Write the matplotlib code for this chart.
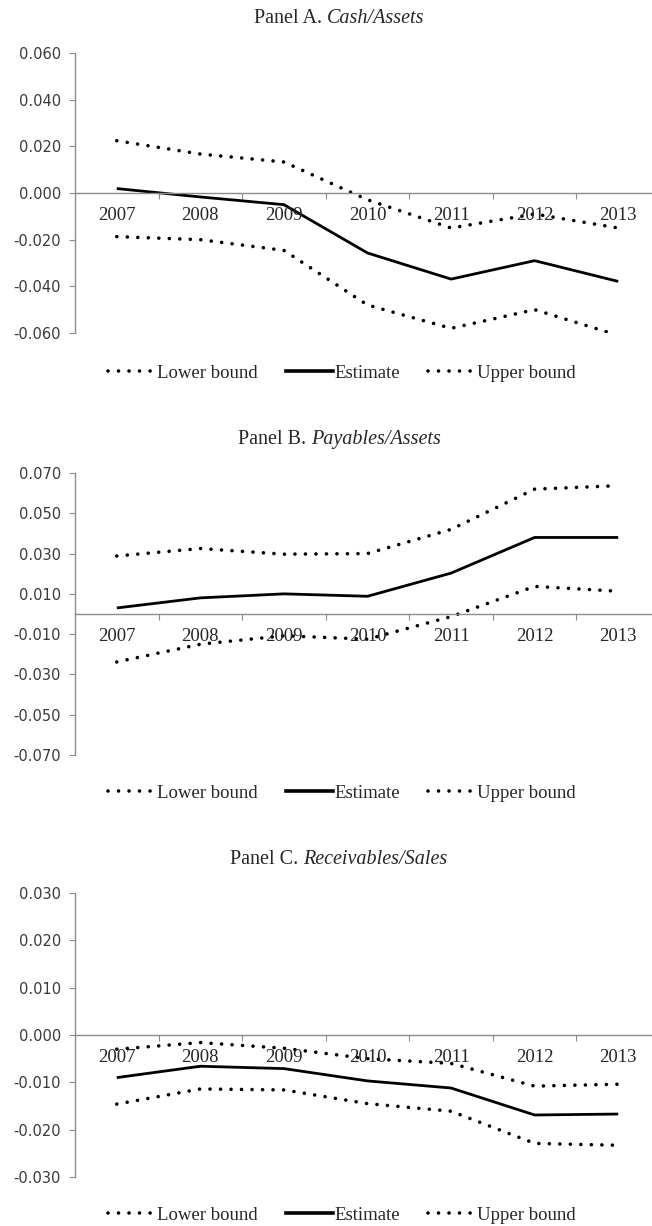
import numpy as np
import matplotlib
matplotlib.use("Agg")
import matplotlib.pyplot as plt
from matplotlib.lines import Line2D

plt.rcParams['axes.unicode_minus'] = False

years = ['2007', '2008', '2009', '2010', '2011', '2012', '2013']

# Panel A: cash / assets
cash_lower = [-0.0187, -0.0200, -0.0246, -0.0480, -0.0580, -0.0500, -0.0610]
cash_est = [0.0019, -0.0017, -0.0050, -0.0257, -0.0369, -0.0290, -0.0379]
cash_upper = [0.0224, 0.0167, 0.0133, -0.0029, -0.0150, -0.0090, -0.0150]

# Panel B: payables / assets
pay_lower = [-0.0238, -0.0150, -0.0108, -0.0125, -0.0013, 0.0137, 0.0113]
pay_est = [0.0030, 0.0080, 0.0100, 0.0088, 0.0203, 0.0380, 0.0380]
pay_upper = [0.0288, 0.0325, 0.0297, 0.0300, 0.0420, 0.0620, 0.0637]

# Panel C: receivables / sales
rec_lower = [-0.0146, -0.0114, -0.0116, -0.0145, -0.0161, -0.0229, -0.0233]
rec_est = [-0.0090, -0.0066, -0.0071, -0.0097, -0.0112, -0.0169, -0.0167]
rec_upper = [-0.0030, -0.0016, -0.0028, -0.0050, -0.0060, -0.0108, -0.0104]

panels = [
    ('Panel A. ', 'Cash/Assets', cash_lower, cash_est, cash_upper,
     np.arange(-0.06, 0.0601, 0.02), (-0.06, 0.06)),
    ('Panel B. ', 'Payables/Assets', pay_lower, pay_est, pay_upper,
     np.arange(-0.07, 0.0701, 0.02), (-0.07, 0.07)),
    ('Panel C. ', 'Receivables/Sales', rec_lower, rec_est, rec_upper,
     np.arange(-0.03, 0.0301, 0.01), (-0.03, 0.03)),
]

# pixel layout: (title y, axis top y, axis bottom y, legend y)
W, H = 652, 1226
rows = [(17, 53, 333, 373), (438, 473, 755, 793), (858, 893, 1177, 1215)]

grey = '#8c8c8c'
txt = '#262626'
dot = (0, (0.01, 2.9))
serif = 'Liberation Serif'

fig = plt.figure(figsize=(W / 100, H / 100), dpi=100)
titles = []

for (head, tail, lo, est, up, yt, ylim), (ty, top, bot, ly) in zip(panels, rows):
    ax = fig.add_axes([75 / W, 1 - bot / H, 585 / W, (bot - top) / H])
    x = np.arange(len(years))
    ax.plot(x, lo, color='black', lw=2.6, ls=dot, dash_capstyle='round')
    ax.plot(x, est, color='black', lw=2.0, solid_capstyle='butt')
    ax.plot(x, up, color='black', lw=2.6, ls=dot, dash_capstyle='round')

    ax.set_xlim(-0.5, 6.5)
    ax.set_ylim(*ylim)
    ax.set_yticks(yt, labels=['%.3f' % v for v in yt], fontfamily='DejaVu Sans',
                  fontsize=10.5, color='#3a3a3a')
    ax.set_xticks(np.arange(0.5, 7, 1), labels=[])
    ax.tick_params(axis='x', direction='out', length=4, color=grey)
    ax.tick_params(axis='y', direction='out', length=4, color=grey, pad=6)

    # category labels sit just under the zero line
    for xi, yr in zip(x, years):
        ax.annotate(yr, (xi, 0), xytext=(0, -16), textcoords='offset points',
                    ha='center', va='center', fontfamily=serif, fontsize=13.5,
                    color=txt)

    ax.spines['top'].set_visible(False)
    ax.spines['right'].set_visible(False)
    ax.spines['bottom'].set_position(('data', 0))
    for s in ('left', 'bottom'):
        ax.spines[s].set_color(grey)
        ax.spines[s].set_linewidth(1.0)
    ax.patch.set_visible(False)

    # title: plain prefix followed by the italic ratio name
    t1 = fig.text(339 / W, 1 - ty / H, head, ha='right', va='baseline',
                  fontfamily=serif, fontsize=14.5, color=txt)
    t2 = fig.text(339 / W, 1 - ty / H, tail, ha='left', va='baseline',
                  fontfamily=serif, fontstyle='italic', fontsize=14.5, color=txt)
    titles.append((t1, t2, ty))

    handles = [Line2D([], [], color='black', lw=2.6, ls=dot, dash_capstyle='round'),
               Line2D([], [], color='black', lw=2.6),
               Line2D([], [], color='black', lw=2.6, ls=dot, dash_capstyle='round')]
    fig.legend(handles, ['Lower bound', 'Estimate', 'Upper bound'],
               loc='center', bbox_to_anchor=(342 / W, 1 - ly / H), ncol=3,
               frameon=False, handlelength=2.5, handletextpad=0.1,
               columnspacing=1.5, prop={'family': serif, 'size': 13.5},
               labelcolor=txt)

# centre each two-part title on x = 339 px, baseline about 6 px under the centre line
fig.canvas.draw()
r = fig.canvas.get_renderer()
for t1, t2, ty in titles:
    w1 = t1.get_window_extent(r).width
    w2 = t2.get_window_extent(r).width
    xs = 339 - (w1 + w2) / 2 + w1
    t1.set_position((xs / W, 1 - (ty + 6) / H))
    t2.set_position((xs / W, 1 - (ty + 6) / H))

fig.savefig('out.png', dpi=100, facecolor='white')
